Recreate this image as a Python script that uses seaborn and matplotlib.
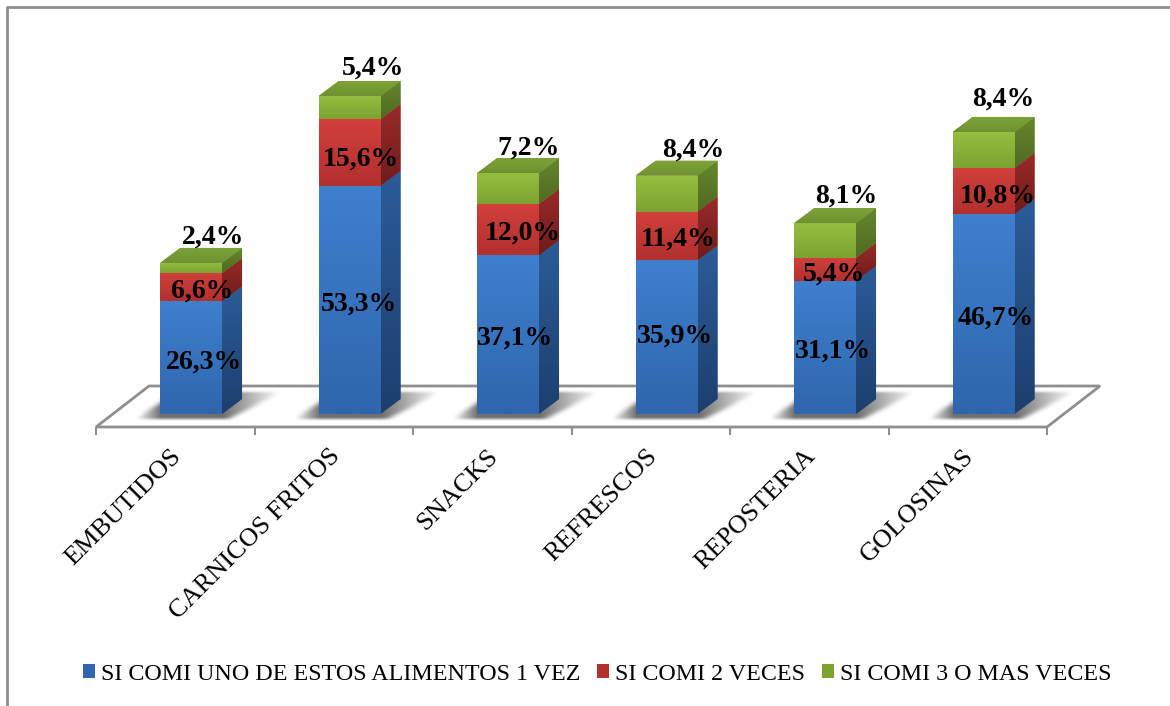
import numpy as np
import matplotlib
matplotlib.use("Agg")
import matplotlib.pyplot as plt
import seaborn as sns
from matplotlib.colors import to_rgb
from matplotlib.lines import Line2D
from matplotlib.patches import Patch, Polygon
from matplotlib.transforms import ScaledTranslation

categorias = ["EMBUTIDOS", "CARNICOS FRITOS", "SNACKS", "REFRESCOS", "REPOSTERIA", "GOLOSINAS"]
una_vez = [26.3, 53.3, 37.1, 35.9, 31.1, 46.7]
dos_veces = [6.6, 15.6, 12.0, 11.4, 5.4, 10.8]
tres_veces = [2.4, 5.4, 7.2, 8.4, 8.1, 8.4]
nombres = ["SI COMI UNO DE ESTOS ALIMENTOS 1 VEZ", "SI COMI 2 VECES", "SI COMI 3 O MAS VECES"]

# claro arriba, oscuro abajo: frente, lado, tapa
colores = [
    dict(frente=("#3f7fce", "#2f66ad"), lado=("#2b5c99", "#1d3f6e"), tapa=("#4a86cf", "#3f7fce")),
    dict(frente=("#d1403c", "#b2302e"), lado=("#9a2b29", "#6e1c1b"), tapa=("#d1403c", "#c23a37")),
    dict(frente=("#96be40", "#7da232"), lado=("#66862d", "#4f6a22"), tapa=("#7ea238", "#6f9130")),
]
leyenda_col = ["#2f66ad", "#b2302e", "#7da232"]
gris = "#8f8f8f"

PX_X = 158.4   # pixeles por categoria
PX_Y = 4.28    # pixeles por punto %

sns.set_style("white")
plt.rcParams["font.family"] = ["Liberation Serif", "DejaVu Serif"]
fig = plt.figure(figsize=(11.7, 7.06), dpi=100)
# eje: de x=96 a x=1047 px, de y=427 a y=7 px
ax = fig.add_axes([96 / 1170, 1 - 427 / 706, 951 / 1170, 420 / 706])

xlim = (-0.6, 5.4)
ylim = (-13 / PX_Y, 407 / PX_Y)
dx = 20 / PX_X
dy = 15 / PX_Y


def degradado(poly, arriba, abajo, z):
    y0, y1 = poly.get_xy()[:, 1].min(), poly.get_xy()[:, 1].max()
    x0, x1 = poly.get_xy()[:, 0].min(), poly.get_xy()[:, 0].max()
    t = np.linspace(0, 1, 64)[:, None, None]
    img = (1 - t) * np.array(to_rgb(arriba)) + t * np.array(to_rgb(abajo))
    im = ax.imshow(img, extent=(x0, x1, y0, y1), aspect="auto", zorder=z, interpolation="bilinear")
    im.set_clip_path(poly)


base = np.zeros(len(categorias))
series = [una_vez, dos_veces, tres_veces]
for vals, col, nom in zip(series, leyenda_col, nombres):
    sns.barplot(x=categorias, y=vals, bottom=base, color=col, saturation=1, width=0.39,
                ax=ax, legend=False, linewidth=0, zorder=3)
    base = base + np.array(vals)

# piso
piso_dx, piso_dy = 53 / PX_X, 41 / PX_Y
suelo = -13 / PX_Y
ax.add_patch(Polygon([(xlim[0], suelo), (xlim[1], suelo), (xlim[1] + piso_dx, suelo + piso_dy),
                      (xlim[0] + piso_dx, suelo + piso_dy)], closed=True, fc="white", ec=gris,
                     lw=2, zorder=1, clip_on=False))

# sombra: paralelogramo en pixeles suavizado con un promedio movil
filas, cols = 40, 160
mascara = np.zeros((filas, cols))
for f in range(filas):
    v = (33 - f) / 26
    if 0 <= v <= 1:
        mascara[f, int(6 + 40 * v):int(100 + 50 * v)] = 1.0
for _ in range(2):
    mascara = np.apply_along_axis(lambda a: np.convolve(a, np.ones(9) / 9, mode="same"), 1, mascara)
    mascara = np.apply_along_axis(lambda a: np.convolve(a, np.ones(3) / 3, mode="same"), 0, mascara)
caida = np.clip(1 - (np.arange(cols) - 92) / 58, 0, 1) * np.clip((np.arange(cols) - 4) / 26, 0, 1)
sombra = np.zeros((filas, cols, 4))
sombra[..., :3] = 0.3
sombra[..., 3] = mascara * caida[None, :] * 0.8
for pos in range(len(categorias)):
    ax.imshow(sombra, extent=(pos - 61 / PX_X, pos + 99 / PX_X, -11 / PX_Y, 29 / PX_Y), aspect="auto",
              zorder=2, interpolation="bilinear", clip_on=False)

# caras con degradado a partir de las barras de seaborn
for s, cont in enumerate(ax.containers):
    c = colores[s]
    for rect in cont.patches:
        x, y, w, h = rect.get_x(), rect.get_y(), rect.get_width(), rect.get_height()
        lado = Polygon([(x + w, y), (x + w + dx, y + dy), (x + w + dx, y + h + dy), (x + w, y + h)],
                       closed=True, fc=c["lado"][0], lw=0, zorder=3)
        ax.add_patch(lado)
        degradado(lado, c["lado"][0], c["lado"][1], 3)
        frente = Polygon([(x, y), (x + w, y), (x + w, y + h), (x, y + h)], closed=True,
                         fc=c["frente"][0], lw=0, zorder=4)
        ax.add_patch(frente)
        degradado(frente, c["frente"][0], c["frente"][1], 4)
        if s == 2:
            tapa = Polygon([(x, y + h), (x + w, y + h), (x + w + dx, y + h + dy), (x + dx, y + h + dy)],
                           closed=True, fc=c["tapa"][0], lw=0, zorder=4)
            ax.add_patch(tapa)
            degradado(tapa, c["tapa"][0], c["tapa"][1], 4)

# etiquetas, ajustes en pixeles
nudge_x = [[13, 9, 7, 8, 8, 12], [11, 11, 15, 12, 9, 14], [22, 23, 20, 27, 21, 20]]
nudge_y = [[-4, -4, -4, 1, -4, -4], [-4, -7, -4, -3, -5, -5], [26, 28, 25, 25, 27, 33]]
for s, cont in enumerate(ax.containers):
    for i, rect in enumerate(cont.patches):
        cx = rect.get_x() + rect.get_width() / 2
        val = series[s][i]
        txt = f"{val:.1f}%".replace(".", ",")
        ypos = rect.get_y() + rect.get_height() if s == 2 else rect.get_y() + rect.get_height() / 2
        ax.annotate(txt, (cx, ypos), xytext=(nudge_x[s][i] * 0.72, nudge_y[s][i] * 0.72),
                    textcoords="offset points", ha="center", va="center", fontsize=20,
                    fontweight="bold", color="black", zorder=6)

ax.set_xlim(xlim)
ax.set_ylim(ylim)
ax.set_yticks([])
sns.despine(ax=ax, left=True, top=True, right=True, bottom=True)
ax.patch.set_alpha(0)
ax.set_xticks(np.arange(xlim[0], xlim[1] + 0.01, 1.0), minor=True)
ax.tick_params(axis="x", which="minor", bottom=True, length=6, width=1.5, color=gris)
ax.set_xticks(range(len(categorias)))
ax.set_xticklabels(categorias, rotation=45, ha="right", rotation_mode="anchor", fontsize=19, color="black")
ax.tick_params(axis="x", which="major", length=0, pad=13)
for lab in ax.get_xticklabels():
    lab.set_transform(lab.get_transform() + ScaledTranslation(-21 / 100, 0, fig.dpi_scale_trans))
ax.grid(False)

handles = [Patch(fc=c, ec="none") for c in leyenda_col]
ley = fig.legend(handles, nombres, loc="center", bbox_to_anchor=(597 / 1170, 1 - 674 / 706), ncol=3,
                 frameon=False, fontsize=17.3, handlelength=0.5, handleheight=0.5, handletextpad=0.25,
                 columnspacing=0.7, labelcolor="black")

# marco
fig.add_artist(Line2D([7 / 1170, 7 / 1170, 1], [0, 1 - 7 / 706, 1 - 7 / 706], color=gris, lw=2))

fig.savefig("out.png", dpi=100)
